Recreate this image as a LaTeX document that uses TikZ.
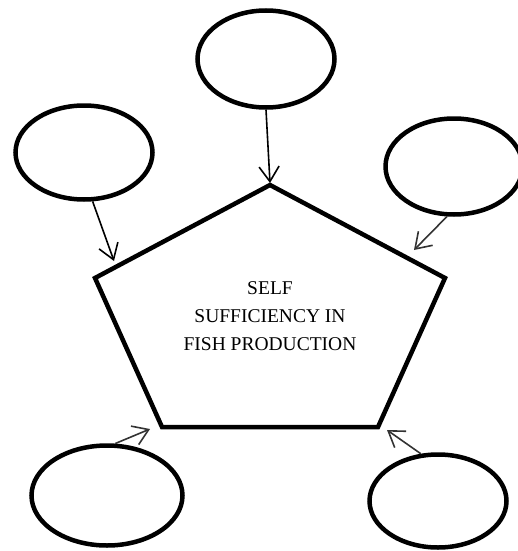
\documentclass[tikz,border=0pt]{standalone}
\usepackage{fontspec}
\setmainfont{Liberation Serif}
\usetikzlibrary{shapes.geometric,arrows.meta}

\begin{document}
\begin{tikzpicture}[x=1pt,y=-1pt,
        bubble/.style={draw,ellipse,line width=4.5pt,minimum width=137pt,minimum height=96pt,inner sep=0pt},
        feed/.style={line width=1.6pt,->},
        >={Straight Barb[length=15pt,width=20pt,line width=1.6pt]}]
        \useasboundingbox (0,0) rectangle (518,551);

        % 画出五边形
        \coordinate (pT) at (270,185);
        \coordinate (pL) at (95,278);
        \coordinate (pR) at (445,278);
        \coordinate (pBL) at (162,427);
        \coordinate (pBR) at (378,427);
        \draw[line width=4.5pt,line join=miter] (pT) -- (pR) -- (pBR) -- (pBL) -- (pL) -- cycle;

        \node[align=center,font=\fontsize{19.5}{28}\selectfont] (goal) at (270,316)
            {SELF\\SUFFICIENCY IN\\FISH PRODUCTION};

        % 周围的椭圆
        \node[bubble,minimum height=97pt] (top) at (266,59) {};
        \node[bubble,minimum height=94pt] (left) at (84,152.5) {};
        \node[bubble,minimum height=96pt] (right) at (454,166.5) {};
        \node[bubble,minimum width=151pt,minimum height=100pt] (botleft) at (107,495.5) {};
        \node[bubble,minimum height=93pt] (botright) at (438,501) {};

        % 箭头的终点
        \coordinate (tTop) at (270,183);
        \coordinate (tLeft) at (114,261);
        \coordinate (tRight) at (414,250);
        \coordinate (tBotLeft) at (150,429);
        \coordinate (tBotRight) at (387,430);

        % 画出箭头
        \draw[feed] (top.south) -- (tTop);
        \draw[feed] (left.-80) -- (tLeft);
        \draw[feed,black!80] (right.-98) -- (tRight);
        \draw[feed,black!80] (botleft.81) -- (tBotLeft);
        \draw[feed,black!80] (botright.110) -- (tBotRight);

    \end{tikzpicture}
\end{document}
